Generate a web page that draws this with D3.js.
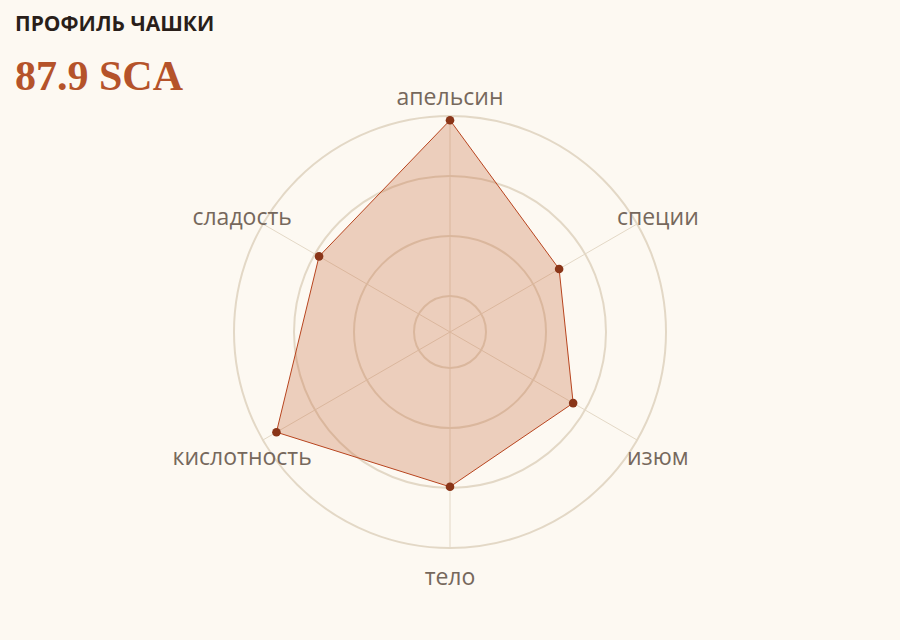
<!DOCTYPE html>
<html><head><meta charset="utf-8">
<script src="https://cdn.jsdelivr.net/npm/d3@7"></script>
<style>
html,body{margin:0;padding:0;background:#fdf9f2;}
svg{display:block;}
</style></head>
<body>
<svg id="chart" width="900" height="640"></svg>
<script>
const axes = ["апельсин","специи","изюм","тело","кислотность","сладость"];
const values = [9.93, 8.5, 8.77, 8.98, 9.74, 8.92];
const ringValues = [7, 8, 9, 10];
const title = "ПРОФИЛЬ ЧАШКИ";
const score = "87.9 SCA";

const svg = d3.select("#chart");
svg.append("rect").attr("width",900).attr("height",640).attr("fill","#fdf9f2");

const cx = 450, cy = 332, R = 216;
const r = d3.scaleLinear().domain([6.4, 10]).range([0, R]);
const angle = d3.scalePoint().domain(axes).range([0, 2*Math.PI*(axes.length-1)/axes.length]);

const g = svg.append("g").attr("transform",`translate(${cx},${cy})`);

g.selectAll("circle.ring").data(ringValues).join("circle")
  .attr("class","ring").attr("r", d => r(d))
  .attr("fill","none").attr("stroke","#e3d8c6").attr("stroke-width",2);

g.selectAll("line.axis").data(axes).join("line")
  .attr("class","axis")
  .attr("x1",0).attr("y1",0)
  .attr("x2", d => R*Math.sin(angle(d)))
  .attr("y2", d => -R*Math.cos(angle(d)))
  .attr("stroke","#e3d8c6").attr("stroke-width",1);

const radial = d3.lineRadial()
  .angle((d,i) => angle(axes[i]))
  .radius(d => r(d))
  .curve(d3.curveLinearClosed);

g.append("path").datum(values)
  .attr("d", radial)
  .attr("fill","#c8693f").attr("fill-opacity",0.3)
  .attr("stroke","#b8451f").attr("stroke-width",1);

g.selectAll("circle.dot").data(values).join("circle")
  .attr("class","dot")
  .attr("cx",(d,i) => r(d)*Math.sin(angle(axes[i])))
  .attr("cy",(d,i) => -r(d)*Math.cos(angle(axes[i])))
  .attr("r",4.3).attr("fill","#8a3518");

g.selectAll("text.lbl").data(axes).join("text")
  .attr("class","lbl")
  .attr("x", d => (R+24)*Math.sin(angle(d)))
  .attr("y", d => -(R+24)*Math.cos(angle(d)) + 5)
  .attr("dy","0.35em")
  .attr("text-anchor","middle")
  .attr("font-family","'Open Sans', sans-serif")
  .attr("font-size",23)
  .attr("fill","#76685c")
  .text(d => d);

svg.append("text").attr("x",15).attr("y",31)
  .attr("font-family","'Open Sans', sans-serif").attr("font-weight","bold")
  .attr("font-size",21).attr("fill","#2a1f1a").text(title);

svg.append("text").attr("x",15).attr("y",90)
  .attr("font-family","'Liberation Serif', serif").attr("font-weight","bold")
  .attr("font-size",42).attr("fill","#b5532a").text(score);
</script>
</body></html>
